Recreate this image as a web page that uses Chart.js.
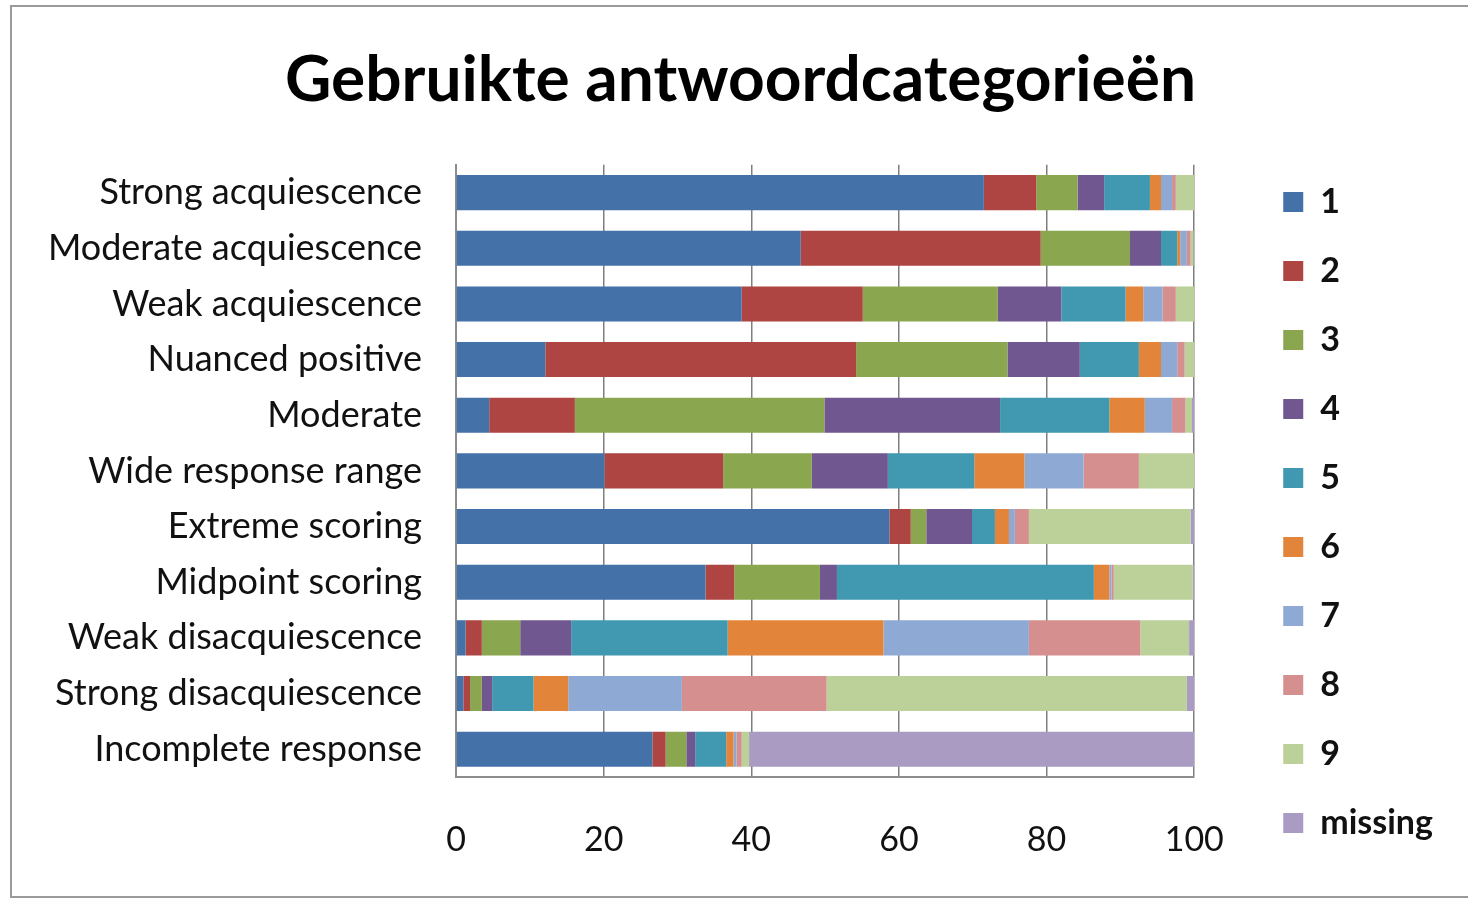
<!DOCTYPE html>
<html>
<head>
<meta charset="utf-8">
<script src="https://cdn.jsdelivr.net/npm/chart.js@4"></script>
<style>
  body { margin: 0; background: #fff; }
  #wrap { width: 1468px; height: 900px; position: relative; }
</style>
</head>
<body>
<div id="wrap"><canvas id="chart"></canvas></div>
<script>
// Categorieën (van boven naar beneden)
const categories = [
    "Strong acquiescence", "Moderate acquiescence", "Weak acquiescence",
    "Nuanced positive", "Moderate", "Wide response range", "Extreme scoring",
    "Midpoint scoring", "Weak disacquiescence", "Strong disacquiescence",
    "Incomplete response"
];

// Percentage per antwoordcategorie
const answer1 = [71.5, 46.7, 38.7, 12.1, 4.5, 20.1, 58.7, 33.8, 1.3, 1.0, 26.6];
const answer2 = [7.1, 32.5, 16.4, 42.1, 11.6, 16.1, 2.9, 3.9, 2.2, 0.9, 1.8];
const answer3 = [5.6, 12.1, 18.3, 20.5, 33.8, 12.0, 2.1, 11.6, 5.2, 1.6, 2.8];
const answer4 = [3.6, 4.2, 8.6, 9.8, 23.8, 10.3, 6.2, 2.3, 6.9, 1.4, 1.2];
const answer5 = [6.2, 2.2, 8.7, 8.0, 14.8, 11.7, 3.1, 34.8, 21.2, 5.6, 4.2];
const answer6 = [1.5, 0.4, 2.4, 3.0, 4.8, 6.8, 1.9, 2.1, 21.1, 4.7, 1.0];
const answer7 = [1.5, 0.9, 2.6, 2.2, 3.7, 8.0, 0.8, 0.3, 19.7, 15.4, 0.4];
const answer8 = [0.5, 0.5, 1.8, 1.0, 1.8, 7.5, 1.9, 0.3, 15.1, 19.6, 0.7];
const answer9 = [2.5, 0.4, 2.5, 1.3, 0.9, 7.5, 21.9, 10.7, 6.6, 48.8, 1.0];
const missing = [0, 0.1, 0, 0, 0.3, 0, 0.5, 0.2, 0.7, 1.0, 60.3];

const seriesLabels = ["1", "2", "3", "4", "5", "6", "7", "8", "9", "missing"];
const seriesData = [answer1, answer2, answer3, answer4, answer5, answer6, answer7, answer8, answer9, missing];
const seriesColors = ["#4571A9", "#AE4542", "#8AA64E", "#71578F", "#4198B1",
                      "#E2843A", "#8FA9D5", "#D48F8E", "#BCD09A", "#A99BC2"];

const xTicks = [0, 20, 40, 60, 80, 100];

// Grijze rand om de grafiek
const frame = {
    id: 'frame',
    beforeDraw(chart) {
        const c = chart.ctx;
        c.save();
        c.strokeStyle = '#9a9a9a';
        c.lineWidth = 2;
        c.strokeRect(11, 6, 1500, 891);
        c.restore();
    }
};

const labelFont = "Lato, 'Open Sans', sans-serif";

new Chart(document.getElementById('chart').getContext('2d'), {
    type: 'bar',
    data: {
        labels: categories,
        datasets: seriesData.map((d, i) => ({
            label: seriesLabels[i],
            data: d,
            backgroundColor: seriesColors[i],
            borderWidth: 0,
            barPercentage: 0.63,
            categoryPercentage: 1.0
        }))
    },
    options: {
        indexAxis: 'y',
        responsive: true,
        maintainAspectRatio: false,
        animation: false,
        layout: { padding: { top: 0, left: 38, right: 25, bottom: 25 } },
        plugins: {
            tooltip: { enabled: false },
            title: {
                display: true,
                text: 'Gebruikte antwoordcategorieën',
                color: '#000',
                font: { family: labelFont, size: 64, weight: 'bold' },
                padding: { top: 42, bottom: 46 }
            },
            legend: {
                position: 'right',
                align: 'end',
                labels: {
                    color: '#111',
                    font: { family: labelFont, size: 34, weight: 'bold' },
                    boxWidth: 20,
                    boxHeight: 20,
                    padding: 35
                }
            }
        },
        scales: {
            x: {
                stacked: true,
                min: 0,
                max: 100,
                afterBuildTicks: (s) => { s.ticks = xTicks.map(v => ({ value: v })); },
                afterFit: (s) => { s.height = 98; },
                grid: { color: '#7f7f7f', lineWidth: 1.5, drawTicks: false },
                border: { color: '#8c8c8c', width: 2 },
                ticks: {
                    color: '#111',
                    padding: 43,
                    font: { family: labelFont, size: 34 }
                }
            },
            y: {
                stacked: true,
                afterFit: (s) => { s.width = 418; },
                grid: { display: false, drawTicks: false },
                border: { color: '#8c8c8c', width: 2 },
                ticks: {
                    color: '#111',
                    padding: 34,
                    font: { family: labelFont, size: 36 }
                }
            },
            // lege ruimte tussen plotgebied en legenda
            spacer: {
                type: 'category',
                labels: categories,
                position: 'right',
                afterFit: (s) => { s.width = 54; },
                grid: { display: false, drawTicks: false },
                border: { display: false },
                ticks: { display: false }
            }
        }
    },
    plugins: [frame]
});
</script>
</body>
</html>
